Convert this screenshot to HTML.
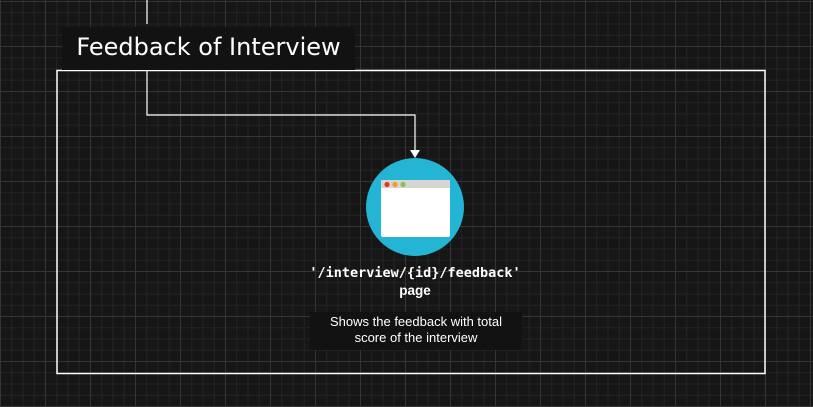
<!DOCTYPE html>
<html><head><style>
body{margin:0;width:813px;height:407px;overflow:hidden;background:#161616;
background-image:linear-gradient(#353535 1px,transparent 1px),linear-gradient(90deg,#353535 1px,transparent 1px),linear-gradient(#242424 1px,transparent 1px),linear-gradient(90deg,#242424 1px,transparent 1px);
background-size:45px 45px,45px 45px,11.25px 11.25px,11.25px 11.25px;background-position:0 1px,0 0,0 1px,0 0;font-family:"Liberation Sans",sans-serif;position:relative}
.a{position:absolute}
</style></head><body>
<svg class="a" style="left:0;top:0" width="813" height="407">
<rect x="57" y="70.5" width="708" height="303" fill="none" stroke="#fff" stroke-width="1.5"/>
<rect x="62" y="27" width="293" height="43" fill="#121212"/>
<path d="M147 0V24M147 70V115H415V153" fill="none" stroke="#fff" stroke-width="1.2"/>
<path d="M410 150L415 158L420 150Z" fill="#fff"/>
<circle cx="415" cy="207" r="49" fill="#23b5d3"/>
<rect x="381" y="180" width="69" height="57" rx="2" fill="#fff"/>
<rect x="381" y="180" width="69" height="8" fill="#d8d4cf"/>
<circle cx="387" cy="184.5" r="2.6" fill="#e8362b"/>
<circle cx="395" cy="184.5" r="2.6" fill="#f29b31"/>
<circle cx="403" cy="184.5" r="2.6" fill="#8cc152"/>
<rect x="310" y="312" width="212" height="38" fill="#121212"/>
</svg>
<div class="a" style="left:62px;top:33px;width:293px;text-align:center;color:#fff;font-size:24px;font-family:'DejaVu Sans',sans-serif">Feedback of Interview</div>
<div class="a" style="left:265px;top:264px;width:300px;text-align:center;color:#fff;font-weight:bold;font-size:13.5px;line-height:18px"><span style="font-family:'DejaVu Sans Mono',monospace">'/interview/{id}/feedback'</span><br>page</div>
<div class="a" style="left:310px;top:314px;width:212px;text-align:center;color:#fff;font-size:13px;line-height:16px">Shows the feedback with total<br>score of the interview</div>
</body></html>
